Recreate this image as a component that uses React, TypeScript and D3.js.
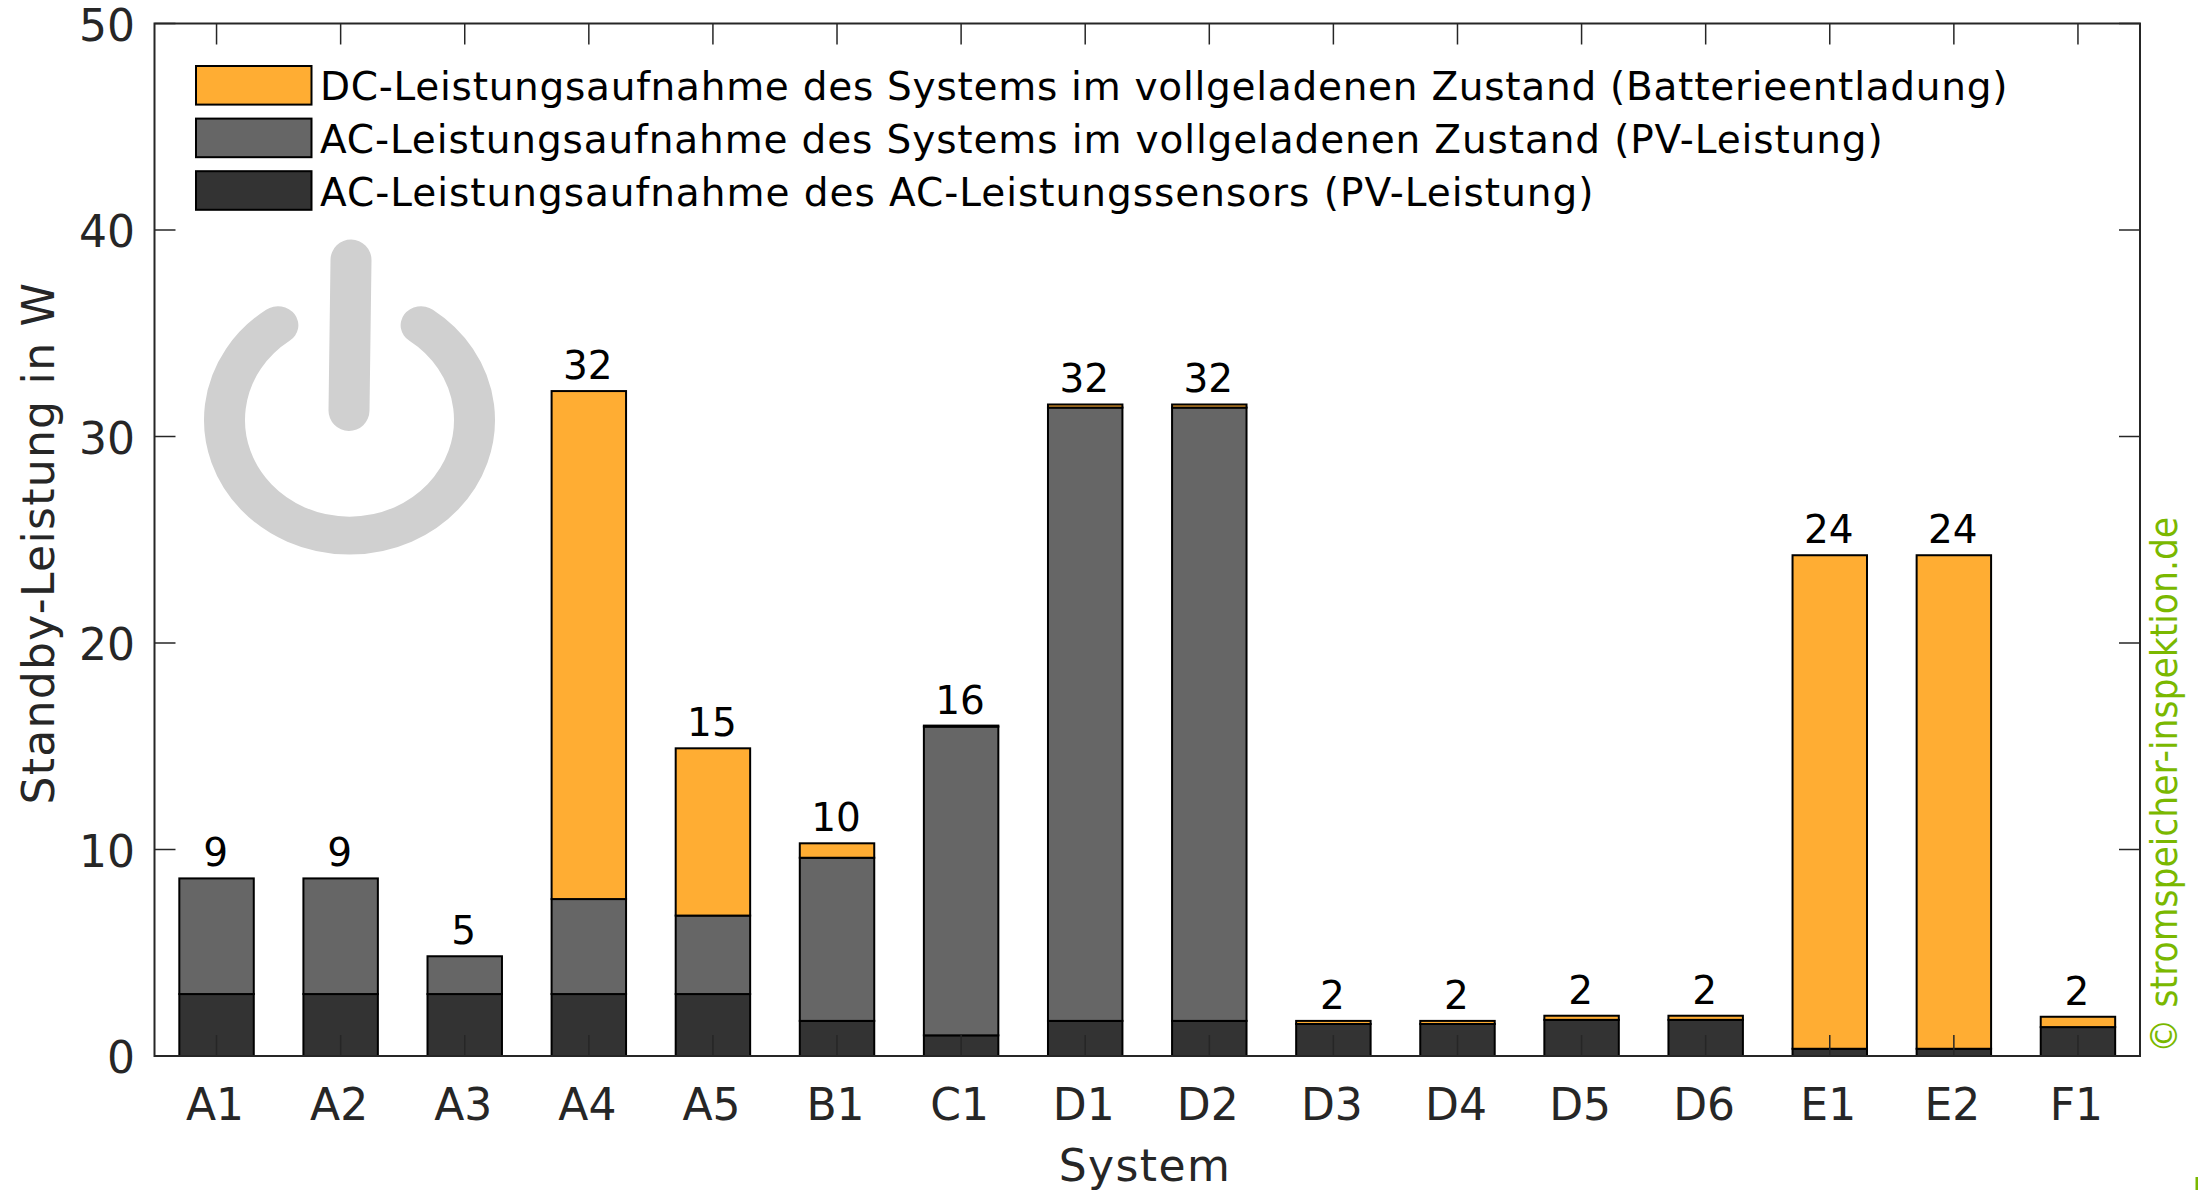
import React from "react";
import * as d3 from "d3";

const categories = ["A1","A2","A3","A4","A5","B1","C1","D1","D2","D3","D4","D5","D6","E1","E2","F1"];
const sensorAC = [3.0,3.0,3.0,3.0,3.0,1.7,1.0,1.7,1.7,1.55,1.55,1.75,1.75,0.35,0.35,1.4];
const systemAC = [5.6,5.6,1.83,4.6,3.8,7.9,14.95,29.7,29.7,0,0,0,0,0,0,0];
const systemDC = [0,0,0,24.6,8.1,0.7,0.05,0.15,0.15,0.15,0.15,0.2,0.2,23.9,23.9,0.5];
const seriesNames = [
  "DC-Leistungsaufnahme des Systems im vollgeladenen Zustand (Batterieentladung)",
  "AC-Leistungsaufnahme des Systems im vollgeladenen Zustand (PV-Leistung)",
  "AC-Leistungsaufnahme des AC-Leistungssensors (PV-Leistung)",
];
const seriesColors = ["#ffad33", "#666666", "#333333"];
const yTicks = [0, 10, 20, 30, 40, 50];

const L = 154.5, R = 2140, T = 23.5, B = 1056;
const FONT = "'DejaVu Sans', sans-serif";
const AXC = "#262626";
const legendTextY = [100, 153, 205.5];
const legendSpacing = [0.73, 0.87, 0.97];

export default function App() {
  const x = d3.scaleBand<string>().domain(categories).range([L, R]).paddingInner(0.4).paddingOuter(0.2);
  const y = d3.scaleLinear().domain([0, 50]).range([B, T]);
  const stack = d3.stack<number>().keys(["0", "1", "2"]).value((i, k) => [sensorAC, systemAC, systemDC][+k][i]);
  const layers = stack(categories.map((_, i) => i));
  const layerColors = [seriesColors[2], seriesColors[1], seriesColors[0]];
  const cx = (c: string) => x(c)! + x.bandwidth() / 2;

  const ringX = 349.5, ringY = 420, ringR = 125, squash = 0.925;
  const endY = (325 - ringY) / squash;
  const p = d3.path();
  p.arc(0, 0, ringR, Math.atan2(endY, -71.8), Math.atan2(endY, 71.8), true);

  return (
    <svg width={2198} height={1191} style={{ position: "absolute", left: 0, top: 0, background: "#fff" }} fontFamily={FONT}>
      <g transform={`translate(${ringX},${ringY}) scale(1,${squash})`}>
        <path d={p.toString()} fill="none" stroke="#d0d0d0" strokeWidth={41} strokeLinecap="round" />
      </g>
      <line x1={351} y1={260} x2={349} y2={410.5} stroke="#d0d0d0" strokeWidth={41} strokeLinecap="round" />

      {layers.map((layer, li) =>
        layer.map((d, i) =>
          d[1] - d[0] > 0 ? (
            <rect key={li + "-" + i} x={x(categories[i])} y={y(d[1])} width={x.bandwidth()} height={y(d[0]) - y(d[1])}
              fill={layerColors[li]} stroke="#000" strokeWidth={2} />
          ) : null
        )
      )}

      {categories.map((c) => (
        <g key={c}>
          <line x1={cx(c)} x2={cx(c)} y1={B} y2={B - 21} stroke={AXC} strokeWidth={1.5} />
          <line x1={cx(c)} x2={cx(c)} y1={T} y2={T + 21} stroke={AXC} strokeWidth={1.5} />
          <text x={cx(c) - 1.5} y={1120} textAnchor="middle" fontSize={44} fill={AXC}>{c}</text>
        </g>
      ))}
      {yTicks.map((t) => (
        <g key={t}>
          <line x1={L} x2={L + 21} y1={y(t)} y2={y(t)} stroke={AXC} strokeWidth={1.5} />
          <line x1={R} x2={R - 21} y1={y(t)} y2={y(t)} stroke={AXC} strokeWidth={1.5} />
          <text x={135} y={y(t) + 17} textAnchor="end" fontSize={44} fill={AXC}>{t}</text>
        </g>
      ))}
      <rect x={L} y={T} width={R - L} height={B - T} fill="none" stroke={AXC} strokeWidth={2} />

      {categories.map((c, i) => {
        const total = sensorAC[i] + systemAC[i] + systemDC[i];
        return (
          <text key={c} x={cx(c) - 1} y={y(total) - 12} textAnchor="middle" fontSize={39} fill="#000">
            {Math.round(total)}
          </text>
        );
      })}

      {seriesNames.map((n, i) => (
        <g key={n}>
          <rect x={196} y={66 + i * 52.6} width={115.5} height={38.6} fill={seriesColors[i]} stroke="#000" strokeWidth={2} />
          <text x={320} y={legendTextY[i]} fontSize={39} letterSpacing={legendSpacing[i]} fill="#000">{n}</text>
        </g>
      ))}

      <text x={1145} y={1180.5} textAnchor="middle" fontSize={44} letterSpacing={1.4} fill={AXC}>System</text>
      <text transform="translate(54,543) rotate(-90)" textAnchor="middle" fontSize={44} letterSpacing={1.3} fill={AXC}>Standby-Leistung in W</text>
      <text transform="translate(2177,1053) rotate(-90) scale(0.935,1)" fontSize={37} fill="#7ab800">© stromspeicher-inspektion.de</text>
      <rect x={2195.5} y={1177} width={2.5} height={13} fill="#7ab800" />
    </svg>
  );
}
